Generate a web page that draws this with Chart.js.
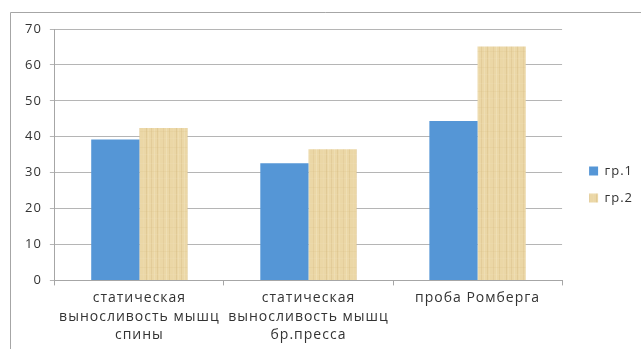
<!DOCTYPE html>
<html>
<head>
<meta charset="utf-8">
<script src="https://cdn.jsdelivr.net/npm/chart.js@4/dist/chart.umd.min.js"></script>
<style>
  html, body { margin: 0; padding: 0; background: #ffffff; }
  #wrap { width: 641px; height: 349px; }
</style>
</head>
<body>
<div id="wrap"><canvas id="c" width="641" height="349"></canvas></div>
<script>
// Categories (multi-line labels) and the two groups' values
const categories = [
  ['статическая', 'выносливость мышц', 'спины'],
  ['статическая', 'выносливость мышц', 'бр.пресса'],
  ['проба Ромберга']
];
const seriesNames = ['гр.1', 'гр.2'];
const group1 = [39.2, 32.6, 44.4];
const group2 = [42.4, 36.5, 65.1];
const yTicks = [0, 10, 20, 30, 40, 50, 60, 70];

// Papyrus-like fill for the second group: fibrous vertical streaks
function papyrusPattern() {
  const p = document.createElement('canvas');
  p.width = 30; p.height = 40;
  const g = p.getContext('2d');
  g.fillStyle = '#ebd7a6';
  g.fillRect(0, 0, 30, 40);
  const cols = [
    [1, '#dcc28c'], [4, '#f2e3bd'], [7, '#d9bf88'], [9, '#efdeb2'],
    [13, '#dfc692'], [16, '#f3e5c0'], [19, '#dbc18a'], [23, '#eedcaf'],
    [26, '#d8be86'], [28, '#f1e1b8']
  ];
  g.globalAlpha = 0.5;
  cols.forEach(([x, c]) => { g.fillStyle = c; g.fillRect(x, 0, 1, 40); });
  g.globalAlpha = 0.18;
  [3, 11, 18, 27, 34].forEach((y, i) => {
    g.fillStyle = i % 2 ? '#d6bb82' : '#f4e6c4';
    g.fillRect(0, y, 30, 1);
  });
  g.globalAlpha = 1;
  return g.createPattern(p, 'repeat');
}

// Slightly wider letter spacing for all chart text
const spacingPlugin = {
  id: 'spacing',
  beforeUpdate(chart) { chart.ctx.letterSpacing = '1px'; },
  beforeDraw(chart) { chart.ctx.letterSpacing = '1px'; }
};

// Leave a wider gap between the plot and the legend
const legendShiftPlugin = {
  id: 'legendShift',
  afterLayout(chart) {
    const lg = chart.legend;
    if (lg) { lg.left += 13; lg.right += 13; lg.top -= 4; lg.bottom -= 4; }
  }
};

// Frame: top and left edges of the chart box
const framePlugin = {
  id: 'frame',
  beforeDraw(chart) {
    const ctx = chart.ctx;
    ctx.save();
    ctx.fillStyle = '#ffffff';
    ctx.fillRect(0, 0, chart.width, chart.height);
    ctx.strokeStyle = '#a6a6a6';
    ctx.lineWidth = 1;
    ctx.beginPath();
    ctx.moveTo(10.5, chart.height);
    ctx.lineTo(10.5, 12.5);
    ctx.lineTo(chart.width, 12.5);
    ctx.stroke();
    ctx.restore();
  }
};

const family = '"Open Sans", "Liberation Sans", sans-serif';

new Chart(document.getElementById('c'), {
  type: 'bar',
  data: {
    labels: categories,
    datasets: [
      { label: seriesNames[0], data: group1, backgroundColor: '#5596d6' },
      { label: seriesNames[1], data: group2, backgroundColor: papyrusPattern() }
    ]
  },
  options: {
    responsive: false,
    animation: false,
    devicePixelRatio: 1,
    layout: { padding: { top: 29, right: 11, left: 17, bottom: 1 } },
    datasets: { bar: { categoryPercentage: 0.57, barPercentage: 1.0 } },
    plugins: {
      tooltip: { enabled: false },
      legend: {
        position: 'right',
        labels: {
          boxWidth: 9, boxHeight: 9, padding: 14,
          color: '#333333', font: { family, size: 13 }
        }
      }
    },
    scales: {
      x: {
        offset: true,
        grid: { display: true, drawOnChartArea: false, drawTicks: true, tickLength: 5, offset: true, color: '#a6a6a6' },
        border: { display: true, color: '#a6a6a6' },
        ticks: { color: '#333333', font: { family, size: 14, lineHeight: 1.3 }, padding: 4, maxRotation: 0 }
      },
      y: {
        min: 0, max: 70,
        afterBuildTicks(axis) { axis.ticks = yTicks.map(v => ({ value: v })); },
        grid: { color: '#b5b5b5', drawTicks: true, tickLength: 5 },
        border: { display: true, color: '#a6a6a6' },
        ticks: { color: '#333333', font: { family, size: 13 }, padding: 8 }
      }
    }
  },
  plugins: [spacingPlugin, legendShiftPlugin, framePlugin]
});
</script>
</body>
</html>
